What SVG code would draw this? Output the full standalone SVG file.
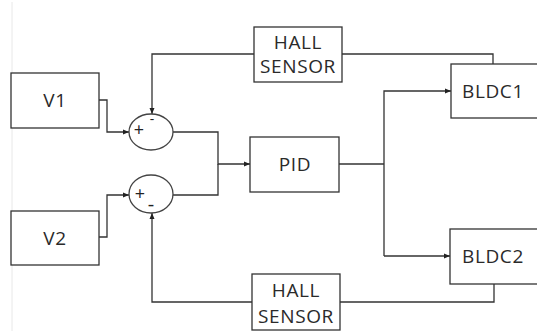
<svg xmlns="http://www.w3.org/2000/svg" width="537" height="331" viewBox="0 0 537 331">
<defs>
<style>
.box{fill:#fff;stroke:#333;stroke-width:1.3}
.sum{fill:#fff;stroke:#444;stroke-width:1.3}
.lbl{font-family:"Open Sans","Liberation Sans",sans-serif;font-size:19px;letter-spacing:0.6px;fill:#2a2a2a;text-anchor:middle}
.sgn{font-family:"Open Sans","Liberation Sans",sans-serif;fill:#222;text-anchor:middle}
.wire{fill:none;stroke:#333;stroke-width:1.3}
</style>
<marker id="arr" viewBox="0 0 6 6" refX="6" refY="3" markerWidth="6" markerHeight="6" markerUnits="userSpaceOnUse" orient="auto">
<path d="M0,0.5 L6,3 L0,5.5 Z" fill="#222"/>
</marker>
</defs>
<rect width="537" height="331" fill="#fff"/>
<line x1="12" y1="2" x2="12" y2="331" stroke="#e8e8e8" stroke-width="1"/>
<g id="connectors">
<path class="wire" d="M99,100 H107 V132 H129" marker-end="url(#arr)"/>
<path class="wire" d="M254,54 H152 V114" marker-end="url(#arr)"/>
<path class="wire" d="M173,132 H218 V164 H250" marker-end="url(#arr)"/>
<path class="wire" d="M173,195 H218 V164"/>
<path class="wire" d="M99,237 H107 V195 H129" marker-end="url(#arr)"/>
<path class="wire" d="M252,302 H152 V213" marker-end="url(#arr)"/>
<path class="wire" d="M339,164 H384"/>
<path class="wire" d="M384,256 V91 H451" marker-end="url(#arr)"/>
<path class="wire" d="M384,256 H450" marker-end="url(#arr)"/>
<path class="wire" d="M342,54 H493 V64"/>
<path class="wire" d="M494,284 V302 H340"/>
</g>
<g id="v1">
<rect class="box" x="11" y="73" width="88" height="55"/>
<text class="lbl" x="55" y="107">V1</text>
</g>
<g id="v2">
<rect class="box" x="11" y="211" width="88" height="54"/>
<text class="lbl" x="55" y="245">V2</text>
</g>
<g id="sum1">
<ellipse class="sum" cx="151" cy="132" rx="22" ry="18"/>
<text class="sgn" x="139" y="136" font-size="18">+</text>
<text class="sgn" x="152" y="124" font-size="14">-</text>
</g>
<g id="sum2">
<ellipse class="sum" cx="151" cy="194" rx="22" ry="19"/>
<text class="sgn" x="140" y="200" font-size="18">+</text>
<text class="sgn" x="151" y="211" font-size="20">-</text>
</g>
<g id="pid">
<rect class="box" x="250" y="137" width="89" height="55"/>
<text class="lbl" x="295" y="171">PID</text>
</g>
<g id="hall1">
<rect class="box" x="254" y="27" width="88" height="55"/>
<text class="lbl" x="298" y="49">HALL</text>
<text class="lbl" x="298" y="73">SENSOR</text>
</g>
<g id="hall2">
<rect class="box" x="252" y="274" width="88" height="56"/>
<text class="lbl" x="296" y="297">HALL</text>
<text class="lbl" x="296" y="323">SENSOR</text>
</g>
<g id="bldc1">
<rect class="box" x="451" y="64" width="90" height="54"/>
<text class="lbl" x="493" y="98">BLDC1</text>
</g>
<g id="bldc2">
<rect class="box" x="450" y="229" width="91" height="55"/>
<text class="lbl" x="493" y="263">BLDC2</text>
</g>
</svg>
